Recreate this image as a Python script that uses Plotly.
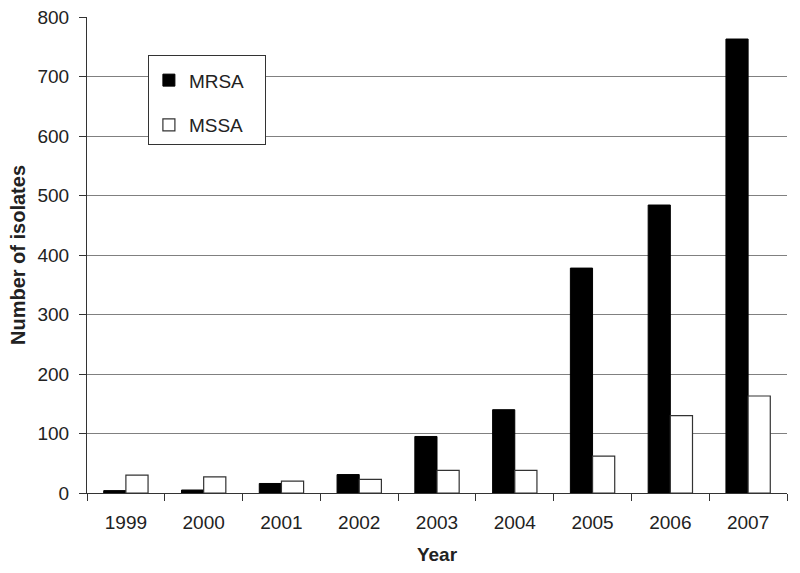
import plotly.graph_objects as go

years = ["1999", "2000", "2001", "2002", "2003", "2004", "2005", "2006", "2007"]
mrsa = [4, 5, 16, 31, 95, 140, 378, 484, 763]
mssa = [30, 27, 20, 23, 38, 38, 62, 130, 163]

pad = "\u00a0" * 3  # widen legend box a bit

fig = go.Figure()
fig.add_trace(go.Bar(
    x=years, y=mrsa, name="MRSA" + pad, legendgroup="a",
    marker=dict(color="black", line=dict(color="black", width=1)),
))
fig.add_trace(go.Bar(
    x=years, y=mssa, name="MSSA" + pad, legendgroup="b",
    marker=dict(color="white", line=dict(color="#333333", width=1.2)),
))

fig.update_layout(
    width=800, height=573,
    paper_bgcolor="white", plot_bgcolor="white",
    font=dict(family="Liberation Sans, Arial, sans-serif", size=19, color="#222222"),
    margin=dict(l=87, r=13, t=17, b=80),
    barmode="group", bargap=0.43, bargroupgap=0,
    showlegend=True,
    legend=dict(
        x=0.087, y=0.92, xanchor="left", yanchor="top",
        bgcolor="white", bordercolor="#333333", borderwidth=1,
        font=dict(size=19), tracegroupgap=17,
        itemwidth=30,
        title=dict(text=" ", font=dict(size=4)),
    ),
    xaxis=dict(
        title=dict(text="<b>Year</b>", font=dict(size=19), standoff=15),
        type="category", showline=True, linecolor="#333333", linewidth=1,
        ticks="outside", tickson="boundaries", ticklen=7, tickcolor="#333333",
        ticklabelstandoff=12,
        showgrid=False, automargin=False,
    ),
    yaxis=dict(
        title=dict(text="<b>Number of isolates</b>", font=dict(size=20), standoff=6),
        range=[0, 800], dtick=100, showline=True, linecolor="#333333", linewidth=1,
        ticks="outside", ticklen=7, tickcolor="#333333",
        ticklabelstandoff=6,
        showgrid=True, gridcolor="#808080", gridwidth=1, zeroline=False,
        automargin=False,
    ),
)

# page body has an 8px default margin; drop it so the figure sits at 0,0
fig.write_html("out.html", config={"displayModeBar": False},
               post_script="document.body.style.margin='0';")
